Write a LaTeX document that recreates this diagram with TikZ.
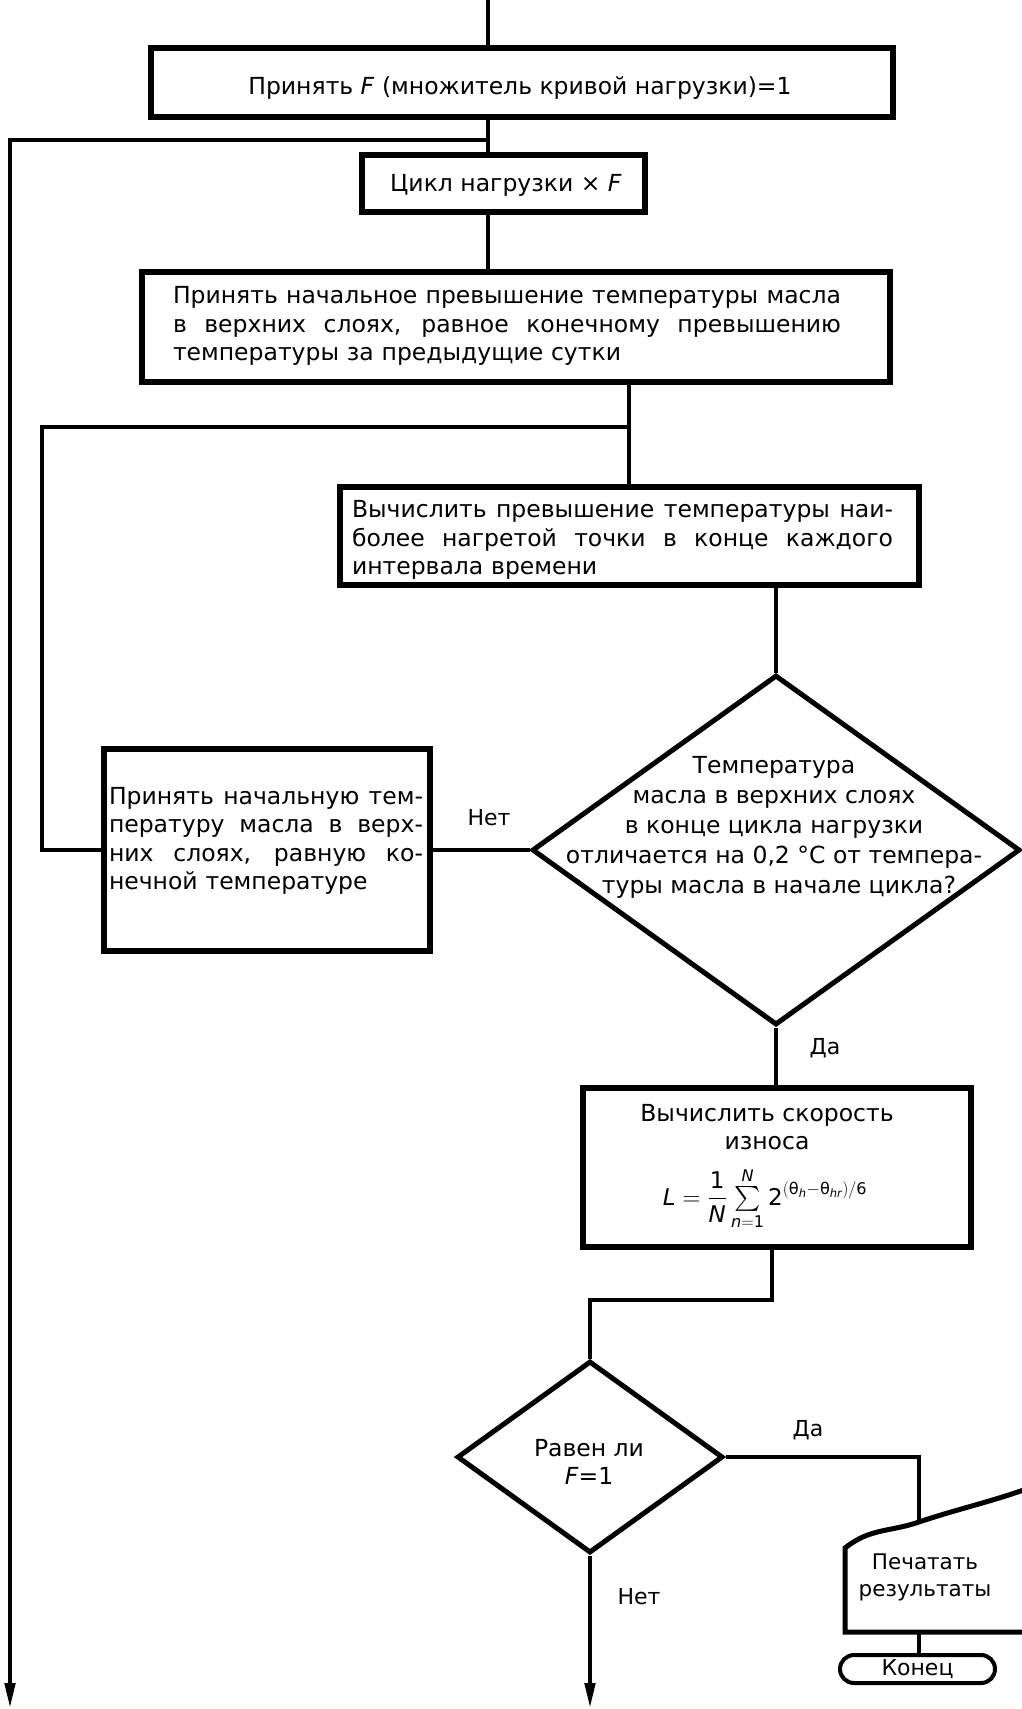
\documentclass[tikz,border=0pt]{standalone}
\usepackage{fontspec}
\setmainfont{DejaVu Sans}
\usepackage{amsmath}
\usetikzlibrary{shapes.geometric,arrows.meta}
\newcommand\jline[2]{\makebox[#1][s]{\spaceskip=.3333em plus 1fil\xspaceskip=.3333em plus 1fil\relax#2}}
\begin{document}
\begin{tikzpicture}[x=1pt,y=-1pt,
  box/.style={draw, line width=5.5pt, rectangle, inner sep=0pt},
  dia/.style={draw, line width=5pt, diamond, inner sep=0pt},
  conn/.style={line width=4.5pt},
  arr/.style={conn, -{Triangle[length=26pt,width=10pt]}},
  txt/.style={font=\fontsize{23.5pt}{28.5pt}\selectfont, inner sep=0pt},
  lbl/.style={font=\fontsize{22pt}{26pt}\selectfont, inner sep=0pt}]
\useasboundingbox (0,0) rectangle (1022,1709);
\fill[white] (0,0) rectangle (1022,1709);
% boxes
\node[box, minimum width=742pt, minimum height=69pt] (b1) at (522,82.5) {};
\node[txt] (b1t) at (520,88) {Принять \textit{F} (множитель кривой нагрузки)=1};
\node[box, minimum width=283pt, minimum height=57pt] (b2) at (503.5,183.5) {};
\node[txt] (b2t) at (506,185) {Цикл нагрузки × \textit{F}};
\node[box, minimum width=748pt, minimum height=110pt] (b3) at (516,327) {};
\node[txt, text width=668pt, align=left] (b3t) at (507,326) {%
\jline{668pt}{Принять начальное превышение температуры масла}\\
\jline{668pt}{в верхних слоях, равное конечному превышению}\\
температуры за предыдущие сутки};
\node[box, minimum width=579pt, minimum height=98pt] (b4) at (629.5,536) {};
\node[txt, text width=541pt, align=left] (b4t) at (622.5,540) {%
\jline{541pt}{Вычислить превышение температуры наи-}\\
\jline{541pt}{более нагретой точки в конце каждого}\\
интервала времени};
\node[dia, minimum width=488pt, minimum height=350pt] (d1) at (776,850) {};
\node[txt, align=center, font=\fontsize{23.5pt}{30pt}\selectfont] (d1t) at (774,827) {Температура\\
масла в верхних слоях\\
в конце цикла нагрузки\hspace*{50pt}\\
отличается на 0,2 °C от темпера-\\
\hspace*{10pt}туры масла в начале цикла?};
\node[box, minimum width=326pt, minimum height=202pt] (b5) at (267,850) {};
\node[txt, text width=314pt, align=left] (b5t) at (266,841) {%
\jline{314pt}{Принять начальную тем-}\\
\jline{314pt}{пературу масла в верх-}\\
\jline{314pt}{них слоях, равную ко-}\\
нечной температуре};
\node[box, minimum width=388pt, minimum height=159pt] (b6) at (777,1167.5) {};
\node[txt, align=center, font=\fontsize{23.5pt}{28.5pt}\selectfont] (b6t) at (767,1127) {Вычислить скорость\\износа};
\node[txt, font=\fontsize{23pt}{26pt}\selectfont, anchor=base] (b6f) at (765,1205)
  {$\textit{L}=\dfrac{\text{1}}{\textit{N}}\sum\limits_{\textit{n}=\text{1}}^{\textit{N}}\text{2}^{(\text{θ}_{\textit{h}}-\text{θ}_{\textit{hr}})/\text{6}}$};
\node[dia, minimum width=266pt, minimum height=192pt] (d2) at (590,1457) {};
\node[txt, align=center] (d2t) at (589,1462) {Равен ли\\\textit{F}=1};
% print shape
\node[txt, align=center, font=\fontsize{21.5pt}{27pt}\selectfont] (pr) at (925,1577) {Печатать\\результаты};
\begin{scope}
\clip (0,0) rectangle (1022,1709);
\draw[line width=5pt] (1045,1632) -- (845,1632) -- (845,1548)
  .. controls (870,1528) and (890,1532) .. (919,1522)
  .. controls (960,1508) and (1000,1500) .. (1045,1482);
\end{scope}
\coordinate (prtop) at (919,1523);
\coordinate (prbot) at (919,1632);
\node[draw, line width=4pt, rounded corners=14pt, minimum width=155pt, minimum height=28pt, inner sep=0pt, lbl] (end) at (917.5,1669) {Конец};
% connectors
\coordinate (start) at (488,0);
\coordinate (j1) at (488,140);
\coordinate (outL) at (10,1709);
\coordinate (c34) at (629,427);
\coordinate (loopL) at (42,427);
\coordinate (c6) at (772,1300);
\draw[conn] (start) -- (start |- b1.north);
\draw[conn] (start |- b1.south) -- (start |- b2.north);
\draw[conn] (start |- b2.south) -- (start |- b3.north);
\draw[arr] (j1) -| (outL);
\draw[conn] (c34 |- b3.south) -- (c34 |- b4.north);
\draw[conn] (d1.west) -- (d1.west -| b5.east);
\draw[conn] (b5.west) -| (loopL) -- (c34);
\draw[conn] (b4.south -| d1.north) -- (d1.north);
\draw[conn] (d1.south) -- (d1.south |- b6.north);
\draw[conn] (c6 |- b6.south) -- (c6) -| (d2.north);
\draw[conn] (d2.east) -| (prtop);
\draw[conn] (prbot) -- (prbot |- end.north);
\draw[arr] (d2.south) -- (d2.south |- outL);
% labels
\node[lbl] (lno1) at (489,818) {Нет};
\node[lbl] (lyes1) at (825,1048) {Да};
\node[lbl] (lyes2) at (808,1430) {Да};
\node[lbl] (lno2) at (639,1597) {Нет};
\end{tikzpicture}
\end{document}
